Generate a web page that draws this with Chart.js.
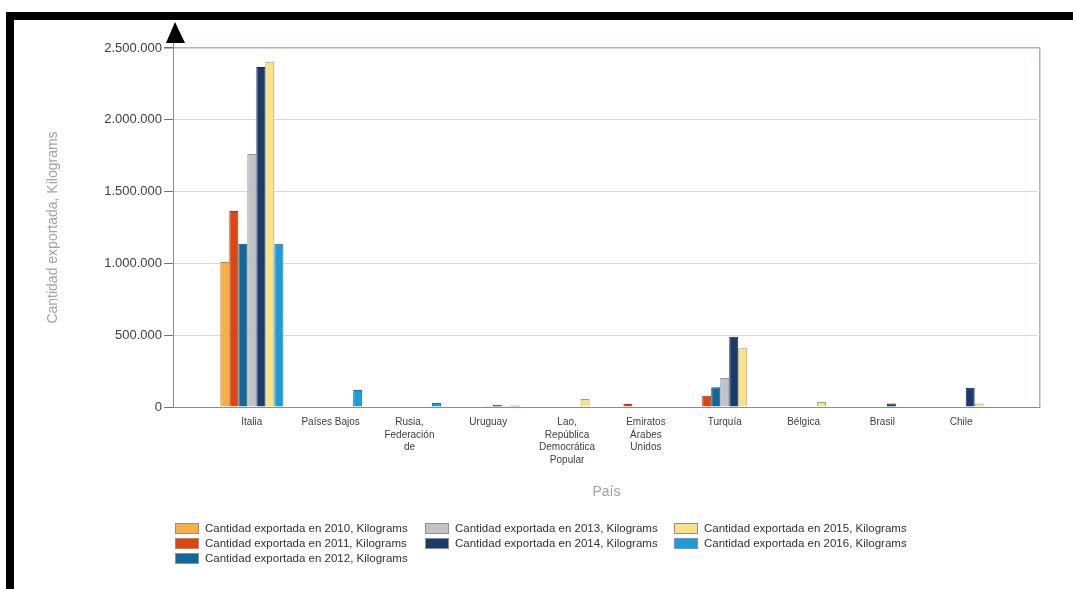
<!DOCTYPE html>
<html lang="es">
<head>
    <meta charset="utf-8" />
    <title>Cantidad exportada por país</title>
    <script src="https://cdn.jsdelivr.net/npm/chart.js"></script>
    <style>
        html, body {
            margin: 0;
            padding: 0;
            background: #fff;
            overflow: hidden;
        }
        #frame {
            position: absolute;
            left: 6px;
            top: 12px;
            width: 1067px;
            height: 577px;
            border-top: 8px solid #000;
            border-left: 8px solid #000;
            box-sizing: border-box;
        }
        #chartBox {
            position: absolute;
            left: 14px;
            top: 20px;
            width: 1059px;
            height: 569px;
        }
    </style>
</head>
<body>
    <div id="frame"></div>
    <div id="chartBox">
        <canvas id="exportChart"></canvas>
    </div>

    <script>
        // categories (multi-line labels as arrays)
        var countries = ['Italia', 'Países Bajos', ['Rusia,', 'Federación', 'de'], 'Uruguay',
            ['Lao,', 'República', 'Democrática', 'Popular'], ['Emiratos', 'Árabes', 'Unidos'],
            'Turquía', 'Bélgica', 'Brasil', 'Chile'];

        var seriesNames = [
            'Cantidad exportada en 2010, Kilograms',
            'Cantidad exportada en 2011, Kilograms',
            'Cantidad exportada en 2012, Kilograms',
            'Cantidad exportada en 2013, Kilograms',
            'Cantidad exportada en 2014, Kilograms',
            'Cantidad exportada en 2015, Kilograms',
            'Cantidad exportada en 2016, Kilograms'
        ];

        // values in kilograms
        var v2010 = [1010000, null, null, null, null, null, null, null, null, null];
        var v2011 = [1365000, null, null, null, null, 21000, 79000, null, null, null];
        var v2012 = [1137000, null, null, null, null, null, 137000, null, null, null];
        var v2013 = [1762000, null, null, 9000, null, null, 202000, null, 6000, null];
        var v2014 = [2368000, null, null, 16000, null, null, 490000, null, 25000, 134000];
        var v2015 = [2405000, null, null, 9000, 56000, null, 409000, 35000, null, 25000];
        var v2016 = [1137000, 118000, 28000, 10000, null, null, null, null, null, null];

        var yTicks = [0, 500000, 1000000, 1500000, 2000000, 2500000];

        var fillColors = ['#F8B140', '#E1440D', '#0F6A9A', '#C3C3C3', '#1C3B6D', '#FDE283', '#1B9CDD'];
        var lineColors = ['#B9893A', '#A9360C', '#0B5077', '#8A94A8', '#122A50', '#A09E86', '#1577AA'];

        var allValues = [v2010, v2011, v2012, v2013, v2014, v2015, v2016];

        function formatNumber(v) {
            return String(v).replace(/\B(?=(\d{3})+(?!\d))/g, '.');
        }

        Chart.defaults.font.family = '"Liberation Sans", Arial, sans-serif';

        var datasets = allValues.map(function (vals, s) {
            return {
                label: seriesNames[s],
                data: vals.map(function (v, i) { return { x: i, y: v }; }),
                backgroundColor: fillColors[s],
                borderColor: lineColors[s],
                borderWidth: 1,
                barPercentage: 1.0,
                categoryPercentage: 0.8
            };
        });

        // small arrow above the value axis
        var arrowPlugin = {
            id: 'axisArrow',
            afterDraw: function (chart) {
                var ctx = chart.ctx;
                var x = chart.chartArea.left;
                var top = chart.chartArea.top;
                ctx.save();
                ctx.strokeStyle = '#8c8c8c';
                ctx.lineWidth = 1;
                ctx.beginPath();
                ctx.moveTo(x + 0.5, top);
                ctx.lineTo(x + 0.5, top - 5);
                ctx.stroke();
                ctx.fillStyle = '#000';
                ctx.beginPath();
                ctx.moveTo(x + 2, top - 26);
                ctx.lineTo(x - 7, top - 5);
                ctx.lineTo(x + 12, top - 5);
                ctx.closePath();
                ctx.fill();
                ctx.restore();
            }
        };

        // legend laid out in columns, like the original report
        var columnLegend = {
            id: 'columnLegend',
            afterDraw: function (chart) {
                var ctx = chart.ctx;
                var colX = [161, 411, 660];
                var rowY = [508.5, 523.5, 538.5];
                var perCol = [3, 2, 2];
                var idx = 0;
                ctx.save();
                ctx.font = '11.5px "Liberation Sans", Arial, sans-serif';
                ctx.textBaseline = 'middle';
                for (var c = 0; c < perCol.length; c++) {
                    for (var r = 0; r < perCol[c]; r++) {
                        var ds = chart.data.datasets[idx];
                        var bx = colX[c], by = rowY[r] - 5.5;
                        ctx.fillStyle = ds.backgroundColor;
                        ctx.fillRect(bx, by, 24, 11);
                        ctx.strokeStyle = '#8f8f8f';
                        ctx.lineWidth = 1;
                        ctx.strokeRect(bx + 0.5, by + 0.5, 23, 10);
                        ctx.fillStyle = '#333';
                        ctx.fillText(ds.label, bx + 30, rowY[r] + 0.5);
                        idx++;
                    }
                }
                ctx.restore();
            }
        };

        var ctx = document.getElementById('exportChart').getContext('2d');
        var exportChart = new Chart(ctx, {
            type: 'bar',
            data: { datasets: datasets },
            options: {
                responsive: true,
                maintainAspectRatio: false,
                animation: false,
                layout: {
                    padding: { left: 0, right: 33, top: 28, bottom: 88 }
                },
                plugins: {
                    legend: { display: false },
                    tooltip: { enabled: true }
                },
                scales: {
                    x: {
                        type: 'linear',
                        offset: false,
                        min: -1,
                        max: 10,
                        afterFit: function (scale) { scale.height = 94; },
                        ticks: {
                            stepSize: 1,
                            autoSkip: false,
                            maxRotation: 0,
                            padding: 9,
                            color: '#404040',
                            font: { size: 10, lineHeight: 1.25 },
                            callback: function (value) {
                                return countries[value] || '';
                            }
                        },
                        grid: {
                            offset: false,
                            drawTicks: false,
                            lineWidth: 1.5,
                            color: function (c) {
                                return c.tick && c.tick.value === 10 ? '#aab4c9' : 'rgba(0,0,0,0)';
                            }
                        },
                        border: { color: '#8c8c8c', width: 1 },
                        title: {
                            display: true,
                            text: 'País',
                            color: '#a3a3a3',
                            font: { size: 14 },
                            padding: { top: 0, bottom: 0 }
                        }
                    },
                    y: {
                        min: 0,
                        max: 2500000,
                        afterFit: function (scale) { scale.width = 159; },
                        afterBuildTicks: function (scale) {
                            scale.ticks = yTicks.map(function (v) { return { value: v }; });
                        },
                        ticks: {
                            padding: 2,
                            color: '#404040',
                            font: { size: 13 },
                            callback: function (value) { return formatNumber(value); }
                        },
                        grid: {
                            tickLength: 9,
                            tickColor: '#707070',
                            color: function (c) {
                                return c.tick && c.tick.value === 2500000 ? '#aab4c9' : '#d9d9d9';
                            },
                            lineWidth: function (c) {
                                return c.tick && c.tick.value === 2500000 ? 1.5 : 1;
                            }
                        },
                        border: { color: '#8c8c8c', width: 1 },
                        title: {
                            display: true,
                            text: 'Cantidad exportada, Kilograms',
                            color: '#a3a3a3',
                            font: { size: 14 },
                            padding: { top: 31, bottom: 0 }
                        }
                    }
                }
            },
            plugins: [arrowPlugin, columnLegend]
        });
    </script>
</body>
</html>
